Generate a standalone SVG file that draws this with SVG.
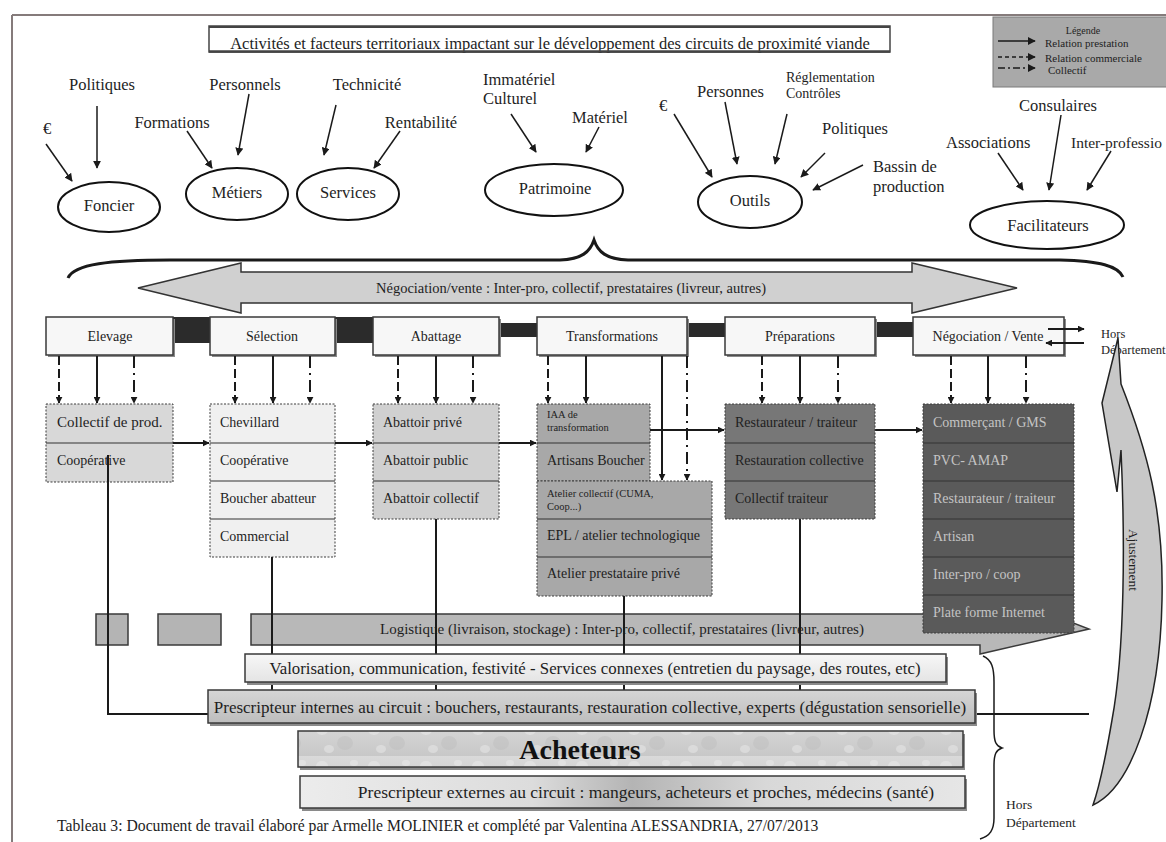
<svg xmlns="http://www.w3.org/2000/svg" width="1166" height="842" viewBox="0 0 1166 842">
<defs>
<marker id="ah" viewBox="0 0 10 10" refX="9" refY="5" markerWidth="8" markerHeight="8" markerUnits="userSpaceOnUse" orient="auto"><path d="M0,0 L10,5 L0,10 Z" fill="#1a1a1a"/></marker>
<marker id="ahs" viewBox="0 0 10 10" refX="9" refY="5" markerWidth="7" markerHeight="7" markerUnits="userSpaceOnUse" orient="auto"><path d="M0,0 L10,5 L0,10 Z" fill="#1a1a1a"/></marker>
<linearGradient id="gVal" x1="0" y1="0" x2="0" y2="1"><stop offset="0" stop-color="#f7f7f7"/><stop offset="1" stop-color="#e4e4e4"/></linearGradient>
<linearGradient id="gPre" x1="0" y1="0" x2="0" y2="1"><stop offset="0" stop-color="#d6d6d6"/><stop offset="1" stop-color="#bdbdbd"/></linearGradient>
<linearGradient id="gExt" x1="0" y1="0" x2="1" y2="0"><stop offset="0" stop-color="#ececec"/><stop offset="0.35" stop-color="#dcdcdc"/><stop offset="0.5" stop-color="#b4b4b4"/><stop offset="0.7" stop-color="#d8d8d8"/><stop offset="1" stop-color="#e6e6e6"/></linearGradient>
<linearGradient id="gAch" x1="0" y1="0" x2="0" y2="1"><stop offset="0" stop-color="#dadada"/><stop offset="1" stop-color="#c8c8c8"/></linearGradient>
<pattern id="drops" width="52" height="36" patternUnits="userSpaceOnUse">
<rect width="52" height="36" fill="url(#gAch)"/>
<ellipse cx="10" cy="10" rx="6" ry="5" fill="#e8e8e8" opacity="0.6"/>
<ellipse cx="33" cy="23" rx="8" ry="7" fill="#bcbcbc" opacity="0.45"/>
<ellipse cx="42" cy="7" rx="4" ry="3" fill="#ececec" opacity="0.5"/>
<ellipse cx="17" cy="29" rx="5" ry="4" fill="#e9e9e9" opacity="0.5"/>
</pattern>
<style>
text{font-family:"Liberation Serif","DejaVu Serif",serif;fill:#1e1e1e}
.lbl{font-size:16.5px}
.mid{text-anchor:middle}
.st{font-size:14px;text-anchor:middle}
.sub{font-size:14px}
.sm{font-size:10.5px}
.lg{font-size:11px}
.ell{fill:#fff;stroke:#111;stroke-width:2}
.arr{stroke:#1a1a1a;stroke-width:1.5;fill:none;marker-end:url(#ah)}
.va{stroke:#1a1a1a;stroke-width:2;fill:none;marker-end:url(#ahs)}
.stage{fill:#f7f7f7;stroke:#3a3a3a;stroke-width:1.5}
.sh{fill:#8a8a8a}
.cell{stroke:#3c3c3c;stroke-width:1;stroke-dasharray:2 1.5}
.div{stroke:#333;stroke-width:1.2}
.da{stroke-dasharray:9 4}
.dd{stroke-dasharray:12 5 2 5}
.ln{stroke:#1a1a1a;stroke-width:2;fill:none}
.blk{fill:#2b2b2b}
.bar{stroke:#3a3a3a;stroke-width:1.5}
.neg{fill:#c4c4c4}
</style>
</defs>

<g id="frame">
<line x1="12" y1="15" x2="1166" y2="15" stroke="#857b7b" stroke-width="2"/>
<line x1="12" y1="15" x2="12" y2="842" stroke="#857b7b" stroke-width="2"/>
</g>

<g id="title">
<rect x="209" y="26" width="681" height="26" fill="#fff" stroke="#444" stroke-width="1.5"/>
<text class="lbl mid" x="550" y="48.5">Activités et facteurs territoriaux impactant sur le développement des circuits de proximité viande</text>
<line x1="209" y1="51.5" x2="890" y2="51.5" stroke="#444" stroke-width="2.5"/>
<line x1="209" y1="27" x2="890" y2="27" stroke="#444" stroke-width="2"/>
</g>

<g id="legend">
<rect x="993" y="17" width="180" height="70" fill="#a9a9a9" stroke="#7a7a7a" stroke-width="1"/>
<text class="mid" font-size="10" x="1083" y="34">Légende</text>
<line x1="998" y1="41" x2="1035" y2="41" class="arr" marker-end="url(#ahs)"/>
<text class="lg" x="1045" y="47">Relation prestation</text>
<line x1="998" y1="57" x2="1035" y2="57" class="arr" stroke-dasharray="4 3" marker-end="url(#ahs)"/>
<text class="lg" x="1045" y="62">Relation commerciale</text>
<line x1="998" y1="68" x2="1035" y2="68" class="arr" stroke-dasharray="7 3 2 3" marker-end="url(#ahs)"/>
<text class="lg" x="1048" y="74">Collectif</text>
</g>

<g id="factors">
<text class="lbl mid" x="102" y="90">Politiques</text>
<text class="lbl mid" x="47" y="134">€</text>
<text class="lbl mid" x="172" y="128">Formations</text>
<text class="lbl mid" x="245" y="90">Personnels</text>
<text class="lbl mid" x="367" y="90">Technicité</text>
<text class="lbl mid" x="421" y="128">Rentabilité</text>
<text class="lbl" x="483" y="85">Immatériel</text>
<text class="lbl" x="483" y="104">Culturel</text>
<text class="lbl" x="572" y="123">Matériel</text>
<text class="lbl" x="659" y="111">€</text>
<text class="lbl" x="697" y="97">Personnes</text>
<text x="786" y="82" font-size="14">Réglementation</text>
<text x="786" y="98" font-size="14">Contrôles</text>
<text class="lbl" x="822" y="134">Politiques</text>
<text class="lbl" x="873" y="172">Bassin de</text>
<text class="lbl" x="873" y="192">production</text>
<text class="lbl mid" x="1058" y="111">Consulaires</text>
<text class="lbl" x="946" y="148">Associations</text>
<text x="1071" y="148" style="font-size:15.5px">Inter-professio</text>
</g>

<g id="foncier"><ellipse class="ell" cx="109" cy="207" rx="51" ry="25"/><text class="lbl mid" x="109" y="211">Foncier</text></g>
<g id="metiers"><ellipse class="ell" cx="237" cy="194" rx="51" ry="26"/><text class="lbl mid" x="237" y="198">Métiers</text></g>
<g id="services"><ellipse class="ell" cx="348" cy="194" rx="51" ry="26"/><text class="lbl mid" x="348" y="198">Services</text></g>
<g id="patrimoine"><ellipse class="ell" cx="554" cy="190" rx="69" ry="26"/><text class="lbl mid" x="555" y="194">Patrimoine</text></g>
<g id="outils"><ellipse class="ell" cx="750" cy="202" rx="52" ry="26"/><text class="lbl mid" x="750" y="206">Outils</text></g>
<g id="facilitateurs"><ellipse class="ell" cx="1047" cy="225" rx="77" ry="24"/><text class="lbl mid" x="1048" y="231">Facilitateurs</text></g>

<g id="factor-arrows">
<line class="arr" x1="97" y1="106" x2="97" y2="168"/>
<line class="arr" x1="46" y1="144" x2="72" y2="181"/>
<line class="arr" x1="187" y1="131" x2="212" y2="168"/>
<line class="arr" x1="249" y1="94" x2="238" y2="155"/>
<line class="arr" x1="336" y1="105" x2="324" y2="155"/>
<line class="arr" x1="400" y1="131" x2="374" y2="168"/>
<line class="arr" x1="511" y1="114" x2="536" y2="152"/>
<line class="arr" x1="599" y1="127" x2="586" y2="152"/>
<line class="arr" x1="674" y1="114" x2="712" y2="177"/>
<line class="arr" x1="725" y1="102" x2="737" y2="164"/>
<line class="arr" x1="787" y1="114" x2="775" y2="164"/>
<line class="arr" x1="825" y1="153" x2="801" y2="177"/>
<line class="arr" x1="863" y1="165" x2="813" y2="190"/>
<line class="arr" x1="1061" y1="115" x2="1049" y2="190"/>
<line class="arr" x1="998" y1="153" x2="1023" y2="190"/>
<line class="arr" x1="1111" y1="151" x2="1087" y2="190"/>
</g>

<g id="brace">
<path d="M68,278 C74,264 110,260 170,260 L560,260 C582,259 590,252 594,240 C598,252 606,259 628,260 L1060,260 C1100,261 1118,266 1123,277" fill="none" stroke="#1a1a1a" stroke-width="3"/>
</g>

<g id="negociation-arrow">
<polygon points="138,288 241,263 241,272 912,272 912,263 1017,288 912,313 912,303 241,303 241,313" fill="#d0d0d0" stroke="#333" stroke-width="1.5"/>
<text class="mid" x="571" y="293" font-size="14.5">Négociation/vente : Inter-pro, collectif, prestataires (livreur, autres)</text>
</g>

<g id="chain">
<rect class="blk" x="173" y="317" width="37" height="26"/>
<rect class="blk" x="335" y="317" width="38" height="26"/>
<rect class="blk" x="499" y="323" width="38" height="14"/>
<rect class="blk" x="687" y="323" width="38" height="14"/>
<rect class="blk" x="875" y="322" width="38" height="15"/>
</g>

<g id="stage-elevage"><rect class="sh" x="48" y="319" width="127" height="38"/><rect class="stage" x="46" y="317" width="127" height="38"/><text class="st" x="110" y="341">Elevage</text></g>
<g id="stage-selection"><rect class="sh" x="212" y="319" width="125" height="38"/><rect class="stage" x="210" y="317" width="125" height="38"/><text class="st" x="272" y="341">Sélection</text></g>
<g id="stage-abattage"><rect class="sh" x="375" y="319" width="126" height="38"/><rect class="stage" x="373" y="317" width="126" height="38"/><text class="st" x="436" y="341">Abattage</text></g>
<g id="stage-transformations"><rect class="sh" x="539" y="319" width="150" height="38"/><rect class="stage" x="537" y="317" width="150" height="38"/><text class="st" x="612" y="341">Transformations</text></g>
<g id="stage-preparations"><rect class="sh" x="727" y="319" width="150" height="38"/><rect class="stage" x="725" y="317" width="150" height="38"/><text class="st" x="800" y="341">Préparations</text></g>
<g id="stage-negociation"><rect class="sh" x="915" y="319" width="151" height="38"/><rect class="stage" x="913" y="317" width="151" height="38"/><text class="st" x="988" y="341">Négociation / Vente</text></g>

<g id="hors-top">
<text x="1101" y="338" font-size="12.5">Hors</text>
<text x="1101" y="354" font-size="12.5">Département</text>
</g>

<g id="logistique">
<rect x="96" y="614" width="32" height="31" fill="#b4b4b4" class="bar"/>
<rect x="158" y="614" width="63" height="31" fill="#b4b4b4" class="bar"/>
<path d="M251,614 L1050,614 L1089,629 L980,654 L980,645 L251,645 Z" fill="#b8b8b8" class="bar"/>
<text class="mid" x="622" y="634" font-size="15">Logistique (livraison, stockage) : Inter-pro, collectif, prestataires (livreur, autres)</text>
</g>

<g id="col-elevage">
<rect x="46" y="404" width="127" height="78" fill="#d8d8d8" class="cell"/>
<line class="div" x1="46" y1="443" x2="173" y2="443"/>
<text x="57" y="427" style="font-size:15px">Collectif de prod.</text>
<text class="sub" x="57" y="465">Coopérative</text>
</g>
<g id="col-selection">
<rect x="210" y="404" width="125" height="153" fill="#f0f0f0" class="cell"/>
<line class="div" x1="210" y1="443" x2="335" y2="443"/>
<line class="div" x1="210" y1="481" x2="335" y2="481"/>
<line class="div" x1="210" y1="519" x2="335" y2="519"/>
<text class="sub" x="220" y="427">Chevillard</text>
<text class="sub" x="220" y="465">Coopérative</text>
<text class="sub" x="220" y="503">Boucher abatteur</text>
<text class="sub" x="220" y="541">Commercial</text>
</g>
<g id="col-abattage">
<rect x="373" y="404" width="126" height="115" fill="#d0d0d0" class="cell"/>
<line class="div" x1="373" y1="443" x2="499" y2="443"/>
<line class="div" x1="373" y1="481" x2="499" y2="481"/>
<text class="sub" x="383" y="427">Abattoir  privé</text>
<text class="sub" x="383" y="465">Abattoir public</text>
<text class="sub" x="383" y="503">Abattoir collectif</text>
</g>
<g id="col-transformations">
<rect x="537" y="404" width="113" height="77" fill="#a8a8a8" class="cell"/>
<line class="div" x1="537" y1="443" x2="650" y2="443"/>
<text class="sm" x="547" y="418">IAA de</text>
<text class="sm" x="547" y="431">transformation</text>
<text class="sub" x="547" y="465">Artisans  Boucher</text>
<rect x="537" y="481" width="175" height="115" fill="#a8a8a8" class="cell"/>
<line class="div" x1="537" y1="519" x2="712" y2="519"/>
<line class="div" x1="537" y1="557" x2="712" y2="557"/>
<text class="sm" x="547" y="497">Atelier collectif (CUMA,</text>
<text class="sm" x="547" y="510">Coop...)</text>
<text class="sub" x="547" y="540">EPL / atelier technologique</text>
<text class="sub" x="547" y="578">Atelier prestataire privé</text>
</g>

<g id="connectors">
<path class="ln" d="M108,455 L108,714 L1089,714"/>
<line class="ln" x1="272" y1="557" x2="272" y2="714"/>
<line class="ln" x1="436" y1="519" x2="436" y2="714"/>
<line class="ln" x1="624" y1="596" x2="624" y2="714"/>
<line class="ln" x1="800" y1="519" x2="800" y2="714"/>
<line class="va da" x1="59" y1="356" x2="59" y2="403"/>
<line class="va" x1="97" y1="356" x2="97" y2="403"/>
<line class="va dd" x1="134" y1="356" x2="134" y2="403"/>
<line class="va da" x1="235" y1="356" x2="235" y2="403"/>
<line class="va" x1="273" y1="356" x2="273" y2="403"/>
<line class="va dd" x1="310" y1="356" x2="310" y2="403"/>
<line class="va da" x1="398" y1="356" x2="398" y2="403"/>
<line class="va" x1="436" y1="356" x2="436" y2="403"/>
<line class="va dd" x1="473" y1="356" x2="473" y2="403"/>
<line class="va da" x1="548" y1="356" x2="548" y2="403"/>
<line class="va" x1="586" y1="356" x2="586" y2="403"/>
<line class="va" x1="662" y1="356" x2="662" y2="480"/>
<line class="va dd" x1="687" y1="356" x2="687" y2="480"/>
<line class="va da" x1="762" y1="356" x2="762" y2="403"/>
<line class="va" x1="800" y1="356" x2="800" y2="403"/>
<line class="va dd" x1="838" y1="356" x2="838" y2="403"/>
<line class="va da" x1="951" y1="356" x2="951" y2="403"/>
<line class="va" x1="988" y1="356" x2="988" y2="403"/>
<line class="va dd" x1="1026" y1="356" x2="1026" y2="403"/>
<line class="va" x1="173" y1="443" x2="209" y2="443"/>
<line class="va" x1="335" y1="443" x2="372" y2="443"/>
<line class="va" x1="499" y1="443" x2="536" y2="443"/>
<line class="va" x1="650" y1="430" x2="724" y2="430"/>
<line class="va" x1="875" y1="430" x2="922" y2="430"/>
<line class="va" x1="1048" y1="329" x2="1084" y2="329"/>
<line class="va" x1="1084" y1="343" x2="1046" y2="343"/>
</g>

<g id="col-preparations">
<rect x="725" y="404" width="150" height="115" fill="#777777" class="cell"/>
<line class="div" x1="725" y1="443" x2="875" y2="443"/>
<line class="div" x1="725" y1="481" x2="875" y2="481"/>
<text class="sub" x="735" y="427">Restaurateur / traiteur</text>
<text class="sub" x="735" y="465">Restauration collective</text>
<text class="sub" x="735" y="503">Collectif traiteur</text>
</g>
<g id="col-negociation">
<rect x="923" y="404" width="151" height="229" fill="#5a5a5a" class="cell"/>
<line class="div" x1="923" y1="443" x2="1074" y2="443"/>
<line class="div" x1="923" y1="481" x2="1074" y2="481"/>
<line class="div" x1="923" y1="519" x2="1074" y2="519"/>
<line class="div" x1="923" y1="557" x2="1074" y2="557"/>
<line class="div" x1="923" y1="595" x2="1074" y2="595"/>
<text class="sub neg" x="933" y="427">Commerçant / GMS</text>
<text class="sub neg" x="933" y="465">PVC- AMAP</text>
<text class="sub neg" x="933" y="503">Restaurateur / traiteur</text>
<text class="sub neg" x="933" y="541">Artisan</text>
<text class="sub neg" x="933" y="579">Inter-pro / coop</text>
<text class="sub neg" x="933" y="617">Plate forme Internet</text>
</g>

<g id="valorisation">
<rect class="sh" x="247" y="657" width="701" height="28"/>
<rect x="245" y="654" width="701" height="28" fill="url(#gVal)" class="bar"/>
<text class="mid" x="595" y="674" font-size="16.8">Valorisation, communication, festivité - Services connexes (entretien du paysage, des routes, etc)</text>
</g>
<g id="prescripteur-internes">
<rect class="sh" x="210" y="693" width="767" height="33"/>
<rect x="208" y="690" width="767" height="33" fill="url(#gPre)" class="bar"/>
<text class="mid" x="590" y="713" font-size="17">Prescripteur internes au circuit : bouchers, restaurants, restauration collective, experts (dégustation sensorielle)</text>
</g>
<g id="acheteurs">
<rect class="sh" x="300" y="734" width="665" height="36"/>
<rect x="298" y="731" width="665" height="36" fill="url(#drops)" class="bar"/>
<text class="mid" x="580" y="759" font-size="28" font-weight="bold" style="fill:#111">Acheteurs</text>
</g>
<g id="prescripteur-externes">
<rect class="sh" x="302" y="779" width="665" height="32"/>
<rect x="300" y="776" width="665" height="32" fill="url(#gExt)" class="bar"/>
<text class="mid" x="646" y="798" font-size="17.5">Prescripteur externes au circuit : mangeurs, acheteurs et proches, médecins (santé)</text>
</g>

<g id="brace-right">
<path d="M983,656 C992,660 994,668 994,682 L994,730 C994,742 996,746 1002,748 C996,750 994,754 994,766 L994,818 C994,830 990,836 980,839" fill="none" stroke="#1a1a1a" stroke-width="1.5"/>
<text x="1006" y="809" font-size="13.5">Hors</text>
<text x="1006" y="827" font-size="13.5">Département</text>
</g>

<g id="ajustement">
<path d="M1118,338 L1102,403 L1117,492 L1121,450 C1125,540 1125,650 1112,720 C1106,755 1100,785 1093,805 C1130,788 1160,710 1162,600 C1164,510 1147,450 1121,384 Z" fill="#c8c8c8" stroke="#222" stroke-width="1.5"/>
<text class="mid" font-size="13.5" transform="translate(1129,560) rotate(90)">Ajustement</text>
</g>

<text x="57" y="831" style="font-size:15.7px">Tableau 3: Document de travail élaboré par Armelle MOLINIER et complété par Valentina ALESSANDRIA, 27/07/2013</text>
</svg>
